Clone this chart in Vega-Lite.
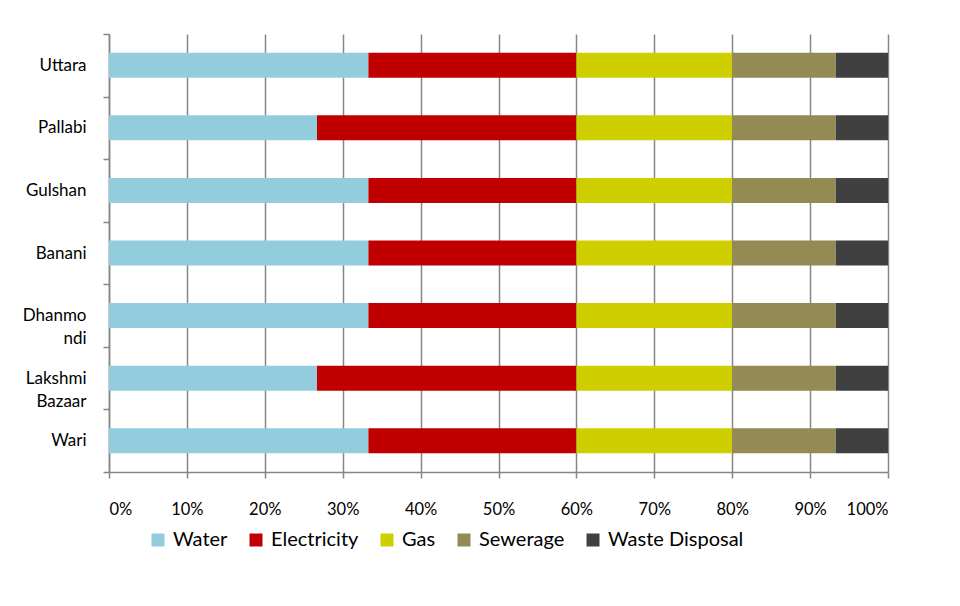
{
  "$schema": "https://vega.github.io/schema/vega-lite/v6.json",
  "width": 779,
  "height": 438,
  "autosize": {"type": "none"},
  "padding": {"left": 109, "top": 34, "right": 72, "bottom": 134},
  "background": "white",
  "data": {
    "values": [
      {"area": "Uttara", "service": "Water", "rank": 1, "share": 33.3},
      {"area": "Uttara", "service": "Electricity", "rank": 2, "share": 26.7},
      {"area": "Uttara", "service": "Gas", "rank": 3, "share": 20},
      {"area": "Uttara", "service": "Sewerage", "rank": 4, "share": 13.3},
      {"area": "Uttara", "service": "Waste Disposal", "rank": 5, "share": 6.7},
      {"area": "Pallabi", "service": "Water", "rank": 1, "share": 26.7},
      {"area": "Pallabi", "service": "Electricity", "rank": 2, "share": 33.3},
      {"area": "Pallabi", "service": "Gas", "rank": 3, "share": 20},
      {"area": "Pallabi", "service": "Sewerage", "rank": 4, "share": 13.3},
      {"area": "Pallabi", "service": "Waste Disposal", "rank": 5, "share": 6.7},
      {"area": "Gulshan", "service": "Water", "rank": 1, "share": 33.3},
      {"area": "Gulshan", "service": "Electricity", "rank": 2, "share": 26.7},
      {"area": "Gulshan", "service": "Gas", "rank": 3, "share": 20},
      {"area": "Gulshan", "service": "Sewerage", "rank": 4, "share": 13.3},
      {"area": "Gulshan", "service": "Waste Disposal", "rank": 5, "share": 6.7},
      {"area": "Banani", "service": "Water", "rank": 1, "share": 33.3},
      {"area": "Banani", "service": "Electricity", "rank": 2, "share": 26.7},
      {"area": "Banani", "service": "Gas", "rank": 3, "share": 20},
      {"area": "Banani", "service": "Sewerage", "rank": 4, "share": 13.3},
      {"area": "Banani", "service": "Waste Disposal", "rank": 5, "share": 6.7},
      {"area": "Dhanmondi", "service": "Water", "rank": 1, "share": 33.3},
      {"area": "Dhanmondi", "service": "Electricity", "rank": 2, "share": 26.7},
      {"area": "Dhanmondi", "service": "Gas", "rank": 3, "share": 20},
      {"area": "Dhanmondi", "service": "Sewerage", "rank": 4, "share": 13.3},
      {"area": "Dhanmondi", "service": "Waste Disposal", "rank": 5, "share": 6.7},
      {"area": "Lakshmi Bazaar", "service": "Water", "rank": 1, "share": 26.7},
      {"area": "Lakshmi Bazaar", "service": "Electricity", "rank": 2, "share": 33.3},
      {"area": "Lakshmi Bazaar", "service": "Gas", "rank": 3, "share": 20},
      {"area": "Lakshmi Bazaar", "service": "Sewerage", "rank": 4, "share": 13.3},
      {"area": "Lakshmi Bazaar", "service": "Waste Disposal", "rank": 5, "share": 6.7},
      {"area": "Wari", "service": "Water", "rank": 1, "share": 33.3},
      {"area": "Wari", "service": "Electricity", "rank": 2, "share": 26.7},
      {"area": "Wari", "service": "Gas", "rank": 3, "share": 20},
      {"area": "Wari", "service": "Sewerage", "rank": 4, "share": 13.3},
      {"area": "Wari", "service": "Waste Disposal", "rank": 5, "share": 6.7}
    ]
  },
  "mark": {"type": "bar", "height": {"band": 0.4}},
  "encoding": {
    "y": {
      "field": "area",
      "type": "nominal",
      "sort": ["Uttara", "Pallabi", "Gulshan", "Banani", "Dhanmondi", "Lakshmi Bazaar", "Wari"],
      "scale": {"paddingInner": 0, "paddingOuter": 0},
      "axis": {
        "title": null,
        "tickBand": "extent",
        "tickSize": 6,
        "tickColor": "#868686",
        "domainColor": "#868686",
        "domainWidth": 1.5,
        "tickWidth": 1.5,
        "labelPadding": 17,
        "labelFontSize": 17,
        "labelColor": "#000000",
        "labelLineHeight": 23,
        "labelExpr": "datum.label == 'Dhanmondi' ? ['Dhanmo', 'ndi'] : datum.label == 'Lakshmi Bazaar' ? ['Lakshmi', 'Bazaar'] : datum.label"
      }
    },
    "x": {
      "field": "share",
      "type": "quantitative",
      "stack": "normalize",
      "scale": {"domain": [0, 1], "nice": false},
      "axis": {
        "title": null,
        "format": "%",
        "values": [0, 0.1, 0.2, 0.3, 0.4, 0.5, 0.6, 0.7, 0.8, 0.9, 1],
        "grid": true,
        "gridColor": "#868686",
        "gridWidth": 1.5,
        "tickSize": 6,
        "tickColor": "#868686",
        "tickWidth": 1.5,
        "domainColor": "#868686",
        "domainWidth": 1.5,
        "labelPadding": 23,
        "labelFontSize": 16.5,
        "labelColor": "#000000"
      }
    },
    "color": {
      "field": "service",
      "type": "nominal",
      "scale": {
        "domain": ["Water", "Electricity", "Gas", "Sewerage", "Waste Disposal"],
        "range": ["#93CDDD", "#C00000", "#CFCF00", "#948A54", "#404040"]
      },
      "legend": {
        "title": null,
        "orient": "none",
        "direction": "horizontal",
        "legendX": 39,
        "legendY": 496,
        "symbolType": "square",
        "symbolSize": 169,
        "symbolStrokeWidth": 0,
        "labelFontSize": 20,
        "labelColor": "#000000",
        "labelOffset": 5,
        "columnPadding": 18
      }
    },
    "order": {"field": "rank"}
  },
  "config": {
    "font": "Lato",
    "view": {"stroke": null}
  }
}
